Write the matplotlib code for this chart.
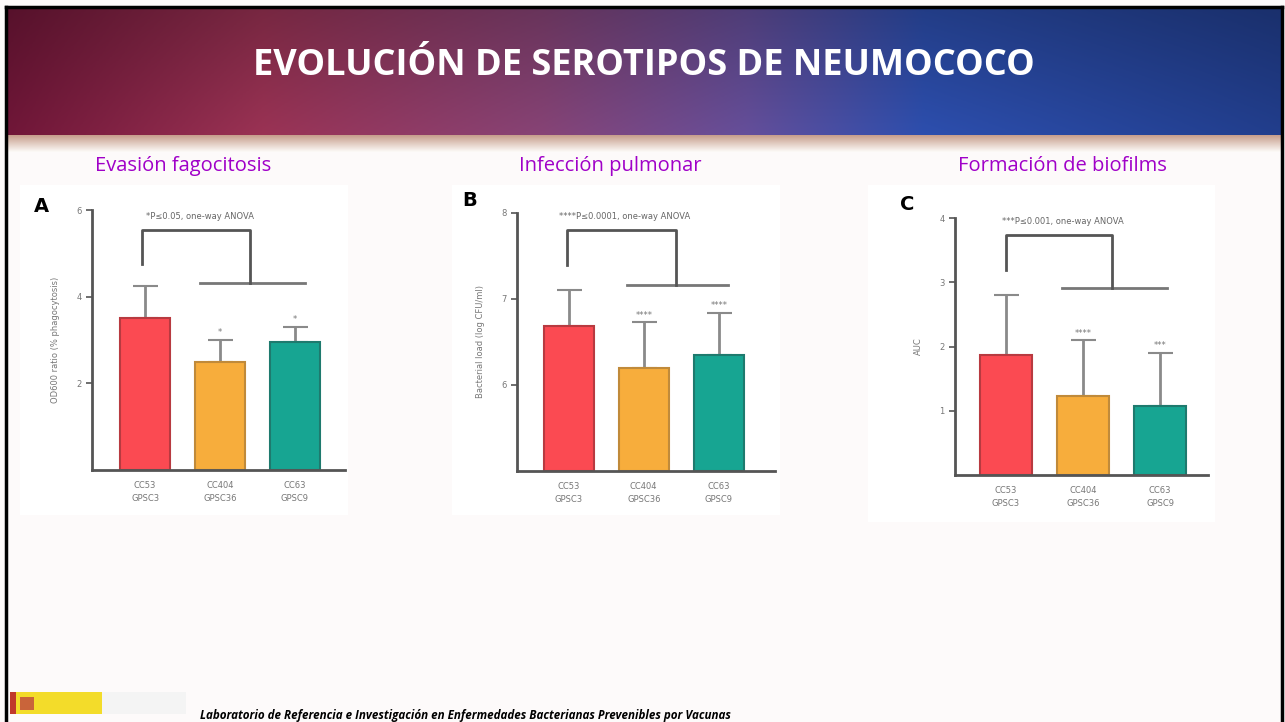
import numpy as np
import matplotlib
matplotlib.use("Agg")
import matplotlib.pyplot as plt
from matplotlib.patches import Rectangle

W, H = 1285, 722

# chart data
categories = ["CC53\nGPSC3", "CC404\nGPSC36", "CC63\nGPSC9"]
phago_mean = [3.50, 2.50, 2.95]
phago_sd = [0.75, 0.50, 0.35]
phago_stars = ["", "*", "*"]
lung_mean = [6.69, 6.20, 6.35]
lung_sd = [0.42, 0.53, 0.49]
lung_stars = ["", "****", "****"]
biofilm_mean = [1.87, 1.23, 1.08]
biofilm_sd = [0.93, 0.87, 0.82]
biofilm_stars = ["", "****", "***"]

BAR_COLORS = ["#fb4a52", "#f7ad3c", "#17a592"]
EDGE_COLORS = ["#b83a40", "#c08a3a", "#1e7a6e"]
PURPLE = "#a000c8"

fig = plt.figure(figsize=(W / 100, H / 100), dpi=100)
fig.patch.set_facecolor("#fdfafa")

# decoration layer in pixel coordinates
bg = fig.add_axes([0, 0, 1, 1])
bg.set_xlim(0, W)
bg.set_ylim(H, 0)
bg.axis("off")

# header banner: red -> purple -> blue
stops = [0.0, 0.2, 0.42, 0.58, 0.72, 1.0]
reds = [0.40, 0.55, 0.48, 0.36, 0.16, 0.12]
greens = [0.08, 0.18, 0.24, 0.28, 0.28, 0.22]
blues = [0.20, 0.30, 0.42, 0.55, 0.62, 0.50]
xs = np.linspace(0, 1, 400)
row = np.stack([np.interp(xs, stops, reds), np.interp(xs, stops, greens),
                np.interp(xs, stops, blues)], axis=-1)
shade = np.linspace(0.85, 1.1, 60)[:, None, None]
banner = np.clip(row[None, :, :] * shade, 0, 1)
bg.imshow(banner, extent=(7, 1282, 135, 8), aspect="auto", zorder=1)
fade = np.linspace(0, 1, 30)[:, None, None]
band = (1 - fade) * np.array([0.78, 0.62, 0.55]) + fade * np.array([0.99, 0.98, 0.97])
band = np.repeat(band, 4, axis=1)
bg.imshow(band, extent=(7, 1282, 152, 135), aspect="auto", zorder=1)

# slide frame
bg.plot([6, 6], [722, 7], color="black", lw=2.5, zorder=5)
bg.plot([6, 1282], [7, 7], color="black", lw=2.5, zorder=5)
bg.plot([1282, 1282], [7, 722], color="black", lw=2.5, zorder=5)

bg.text(644, 66, "EVOLUCIÓN DE SEROTIPOS DE NEUMOCOCO", color="white",
        fontsize=26, fontweight="bold", family="Open Sans", ha="center", va="center", zorder=6)

for x, txt in [(183, "Evasión fagocitosis"), (610, "Infección pulmonar"),
               (1062, "Formación de biofilms")]:
    bg.text(x, 166, txt, color=PURPLE, fontsize=14.5, family="Open Sans",
            ha="center", va="center", zorder=6)

# white figure tiles behind the panels
for x0, y0, x1, y1 in [(20, 185, 348, 515), (452, 185, 780, 515), (868, 185, 1215, 522)]:
    bg.add_patch(Rectangle((x0, y0), x1 - x0, y1 - y0, facecolor="white", edgecolor="none", zorder=2))

# footer logos and caption
bg.add_patch(Rectangle((10, 692), 92, 22, facecolor="#f3dc2a", edgecolor="none", zorder=3))
bg.add_patch(Rectangle((10, 692), 6, 22, facecolor="#c0392b", edgecolor="none", zorder=4))
bg.add_patch(Rectangle((20, 697), 14, 13, facecolor="#c9643a", edgecolor="none", zorder=4))
bg.add_patch(Rectangle((102, 692), 84, 22, facecolor="#f4f4f4", edgecolor="none", zorder=3))
bg.text(200, 715, "Laboratorio de Referencia e Investigación en Enfermedades Bacterianas Prevenibles por Vacunas",
        fontsize=8.4, fontstyle="italic", fontweight="bold", family="Open Sans",
        ha="left", va="center", zorder=6)


def px_axes(x0, y0, x1, y1):
    return fig.add_axes([x0 / W, 1 - y1 / H, (x1 - x0) / W, (y1 - y0) / H])


def panel(box, xlim, ylim, yticks, means, sds, stars, ylabel, letter, note,
          bracket, letter_pos):
    ax = px_axes(*box)
    ax.set_facecolor("none")
    base = ylim[0]
    x = np.arange(len(categories))
    heights = [m - base for m in means]
    ax.bar(x, heights, bottom=base, width=0.67, color=BAR_COLORS,
           edgecolor=EDGE_COLORS, linewidth=1.5, zorder=2)
    ax.errorbar(x, means, yerr=[np.zeros(len(sds)), sds], fmt="none",
                ecolor="#8a8a8a", elinewidth=2, capsize=9, capthick=1.5, zorder=1)
    span = ylim[1] - ylim[0]
    for xi, m, s, st in zip(x, means, sds, stars):
        if st:
            ax.text(xi, m + s + span * 0.01, st, ha="center", va="bottom",
                    fontsize=6, color="#777777")
    ax.set_xlim(*xlim)
    ax.set_ylim(*ylim)
    ax.set_yticks(yticks)
    ax.set_yticklabels([str(t) for t in yticks], fontsize=6, color="#777777")
    ax.set_xticks(x)
    ax.set_xticklabels(categories, fontsize=6, color="#777777", linespacing=1.6)
    for side in ["top", "right"]:
        ax.spines[side].set_visible(False)
    for side in ["left", "bottom"]:
        ax.spines[side].set_color("#555555")
        ax.spines[side].set_linewidth(2)
    ax.tick_params(axis="both", length=4, width=1.2, color="#555555")
    ax.tick_params(axis="x", length=0, pad=8)
    ax.set_ylabel(ylabel, fontsize=6, color="#777777", labelpad=12)
    # significance bracket
    top, left_x, left_low, right_x, right_low, bar_l, bar_r = bracket
    kw = dict(color="#555555", lw=2, clip_on=False, zorder=3)
    ax.plot([left_x, left_x, right_x, right_x], [left_low, top, top, right_low], **kw)
    ax.plot([bar_l, bar_r], [right_low, right_low], color="#777777", lw=2, clip_on=False)
    ax.text((left_x + right_x) / 2 + 0.05, top + span * 0.035, note, ha="center",
            va="bottom", fontsize=6, color="#666666", clip_on=False)
    bg.text(letter_pos[0], letter_pos[1], letter, fontsize=14,
            fontweight="bold", ha="center", va="center", zorder=6)
    return ax


panel((92, 210, 345, 470), (-0.71, 2.67), (0, 6), [2, 4, 6],
      phago_mean, phago_sd, phago_stars,
      "OD600 ratio (% phagocytosis)", "A", "*P≤0.05, one-way ANOVA",
      (5.54, -0.04, 4.76, 1.40, 4.32, 0.73, 2.13), (41, 206))

panel((517, 213, 775, 471), (-0.69, 2.75), (5, 8), [6, 7, 8],
      lung_mean, lung_sd, lung_stars,
      "Bacterial load (log CFU/ml)", "B", "****P≤0.0001, one-way ANOVA",
      (7.80, -0.03, 7.40, 1.43, 7.16, 0.77, 2.12), (470, 200))

panel((955, 218, 1208, 475), (-0.66, 2.62), (0, 4), [1, 2, 3, 4],
      biofilm_mean, biofilm_sd, biofilm_stars,
      "AUC", "C", "***P≤0.001, one-way ANOVA",
      (3.74, 0.0, 3.19, 1.38, 2.91, 0.73, 2.09), (907, 205))

fig.savefig("out.png", dpi=100, facecolor=fig.get_facecolor())
